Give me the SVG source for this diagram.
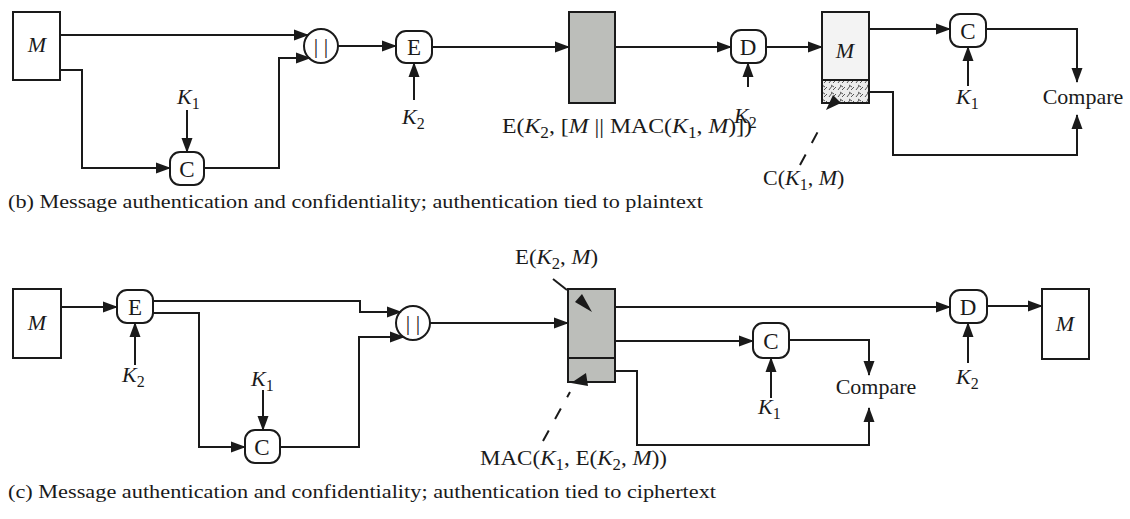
<svg xmlns="http://www.w3.org/2000/svg" width="1130" height="519" viewBox="0 0 1130 519">
<defs>
<marker id="ah" markerUnits="userSpaceOnUse" markerWidth="15" markerHeight="12" refX="14" refY="6" orient="auto">
<path d="M0,0.5 L15,6 L0,11.5 z" fill="#1a1a1a"/>
</marker>
<pattern id="hatch" width="9" height="7" patternUnits="userSpaceOnUse">
<rect width="9" height="7" fill="#ececec"/>
<path d="M1,6 L4,2 M5,6 L8,3 M3,1 L6,3" stroke="#555" stroke-width="1"/>
</pattern>
<style>
.ln{fill:none;stroke:#1a1a1a;stroke-width:2}
.ar{fill:none;stroke:#1a1a1a;stroke-width:2;marker-end:url(#ah)}
.bx{fill:#fff;stroke:#1a1a1a;stroke-width:2}
.gr{fill:#bcbeba;stroke:#1a1a1a;stroke-width:2}
.t{font-family:"Liberation Serif","Times New Roman",serif;font-size:22px;fill:#1a1a1a}
.n{font-family:"Liberation Serif","Times New Roman",serif;font-size:23px;fill:#1a1a1a;text-anchor:middle}
.c{text-anchor:middle}
.i{font-style:italic}
.cap{font-family:"Liberation Serif","Times New Roman",serif;font-size:19px;fill:#1a1a1a}
.dash{fill:none;stroke:#1a1a1a;stroke-width:2;stroke-dasharray:12,13}
</style>
</defs>

<!-- Top diagram (b) -->
<g id="b-M"><rect class="bx" x="13" y="12" width="47" height="68"/><text class="t c i" x="37" y="52">M</text></g>
<g id="b-K1a"><text class="t" x="177" y="104"><tspan class="i">K</tspan><tspan font-size="16" dy="5">1</tspan></text></g>
<g id="b-C1"><rect class="bx" x="170" y="152" width="34" height="33" rx="10"/><text class="n" x="187" y="177">C</text></g>
<g id="b-concat"><circle class="bx" cx="321" cy="46" r="17"/><text class="t c" x="321" y="53" font-size="18">| |</text></g>
<g id="b-E"><rect class="bx" x="396" y="31" width="36" height="32" rx="10"/><text class="n" x="414" y="55">E</text></g>
<g id="b-K2a"><text class="t" x="402" y="124"><tspan class="i">K</tspan><tspan font-size="16" dy="5">2</tspan></text></g>
<g id="b-cipher"><rect class="gr" x="569" y="12" width="46" height="91"/>
<text class="t" x="502" y="133" textLength="250" lengthAdjust="spacingAndGlyphs">E(<tspan class="i">K</tspan><tspan font-size="16" dy="5">2</tspan><tspan dy="-5">, [</tspan><tspan class="i">M</tspan> || MAC(<tspan class="i">K</tspan><tspan font-size="16" dy="5">1</tspan><tspan dy="-5">, </tspan><tspan class="i">M</tspan>)])</text></g>
<g id="b-D"><rect class="bx" x="731" y="30" width="35" height="33" rx="10"/><text class="n" x="748" y="55">D</text></g>
<g id="b-K2b"><text class="t" x="734" y="123"><tspan class="i">K</tspan><tspan font-size="16" dy="5">2</tspan></text></g>
<g id="b-Mout"><rect x="822" y="12" width="47" height="68" fill="#f3f3f3" stroke="#1a1a1a" stroke-width="2"/>
<rect x="822" y="80" width="47" height="23" fill="url(#hatch)" stroke="#1a1a1a" stroke-width="2"/>
<text class="t c i" x="845" y="58" font-size="19">M</text>
<polygon points="826,110 833,95 841,103" fill="#1a1a1a"/>
<line class="dash" x1="800" y1="165" x2="823" y2="122"/>
<text class="t" x="763" y="185">C(<tspan class="i">K</tspan><tspan font-size="16" dy="5">1</tspan><tspan dy="-5">, </tspan><tspan class="i">M</tspan>)</text></g>
<g id="b-C2"><rect class="bx" x="950" y="14" width="36" height="33" rx="10"/><text class="n" x="968" y="39">C</text></g>
<g id="b-K1b"><text class="t" x="956" y="104"><tspan class="i">K</tspan><tspan font-size="16" dy="5">1</tspan></text></g>
<g id="b-compare"><text class="t c" x="1083" y="104">Compare</text></g>
<g id="b-caption"><text class="cap" x="8" y="208" textLength="695" lengthAdjust="spacingAndGlyphs">(b) Message authentication and confidentiality; authentication tied to plaintext</text></g>

<!-- Bottom diagram (c) -->
<g id="c-M"><rect class="bx" x="13" y="289" width="48" height="69"/><text class="t c i" x="37" y="330">M</text></g>
<g id="c-E"><rect class="bx" x="117" y="290" width="36" height="33" rx="10"/><text class="n" x="135" y="315">E</text></g>
<g id="c-K2a"><text class="t" x="122" y="382"><tspan class="i">K</tspan><tspan font-size="16" dy="5">2</tspan></text></g>
<g id="c-K1a"><text class="t" x="251" y="386"><tspan class="i">K</tspan><tspan font-size="16" dy="5">1</tspan></text></g>
<g id="c-C1"><rect class="bx" x="245" y="430" width="35" height="33" rx="10"/><text class="n" x="262" y="455">C</text></g>
<g id="c-concat"><circle class="bx" cx="413" cy="323" r="17"/><text class="t c" x="413" y="330" font-size="18">| |</text></g>
<g id="c-cipher"><rect class="gr" x="568" y="289" width="47" height="69"/>
<rect class="gr" x="568" y="358" width="47" height="24"/>
<polygon points="592,312 575,302 582,294" fill="#1a1a1a"/>
<polygon points="571,383 586,373 588,386" fill="#1a1a1a"/>
<line class="ln" x1="553" y1="279" x2="567" y2="290"/>
<line class="dash" x1="543" y1="441" x2="570" y2="392"/>
<text class="t" x="515" y="264" textLength="83" lengthAdjust="spacingAndGlyphs">E(<tspan class="i">K</tspan><tspan font-size="16" dy="5">2</tspan><tspan dy="-5">, </tspan><tspan class="i">M</tspan>)</text>
<text class="t" x="480" y="465" textLength="187" lengthAdjust="spacingAndGlyphs">MAC(<tspan class="i">K</tspan><tspan font-size="16" dy="5">1</tspan><tspan dy="-5">, E(</tspan><tspan class="i">K</tspan><tspan font-size="16" dy="5">2</tspan><tspan dy="-5">, </tspan><tspan class="i">M</tspan>))</text></g>
<g id="c-C2"><rect class="bx" x="753" y="323" width="36" height="35" rx="10"/><text class="n" x="771" y="349">C</text></g>
<g id="c-K1b"><text class="t" x="758" y="414"><tspan class="i">K</tspan><tspan font-size="16" dy="5">1</tspan></text></g>
<g id="c-compare"><text class="t c" x="876" y="394">Compare</text></g>
<g id="c-D"><rect class="bx" x="950" y="290" width="37" height="33" rx="10"/><text class="n" x="968" y="315">D</text></g>
<g id="c-K2b"><text class="t" x="956" y="384"><tspan class="i">K</tspan><tspan font-size="16" dy="5">2</tspan></text></g>
<g id="c-Mout"><rect class="bx" x="1042" y="289" width="47" height="70"/><text class="t c i" x="1065" y="331" font-size="19">M</text></g>
<g id="c-caption"><text class="cap" x="8" y="498" textLength="708" lengthAdjust="spacingAndGlyphs">(c) Message authentication and confidentiality; authentication tied to ciphertext</text></g>

<g id="connectors">
<path class="ar" d="M60,35 H308"/>
<path class="ar" d="M60,70 H82 V168 H170"/>
<path class="ar" d="M187,110 V152"/>
<path class="ar" d="M204,168 H279 V58 H310"/>
<path class="ar" d="M338,46 H396"/>
<path class="ar" d="M414,100 V63"/>
<path class="ar" d="M432,47 H569"/>
<path class="ar" d="M615,47 H731"/>
<path class="ar" d="M748,87 V63"/>
<path class="ar" d="M766,47 H822"/>
<path class="ar" d="M869,29 H950"/>
<path class="ar" d="M968,86 V47"/>
<path class="ar" d="M986,29 H1077 V82"/>
<path class="ar" d="M869,92 H893 V155 H1077 V115"/>

<path class="ar" d="M61,307 H117"/>
<path class="ar" d="M135,365 V323"/>
<path class="ar" d="M153,301 H360 V312 H401"/>
<path class="ar" d="M153,313 H199 V447 H245"/>
<path class="ar" d="M263,390 V430"/>
<path class="ar" d="M280,447 H359 V337 H404"/>
<path class="ar" d="M430,323 H568"/>
<path class="ar" d="M615,307 H950"/>
<path class="ar" d="M615,341 H753"/>
<path class="ar" d="M771,398 V358"/>
<path class="ar" d="M789,340 H869 V375"/>
<path class="ar" d="M615,371 H637 V445 H869 V408"/>
<path class="ar" d="M968,363 V323"/>
<path class="ar" d="M987,306 H1042"/>
</g>
</svg>
